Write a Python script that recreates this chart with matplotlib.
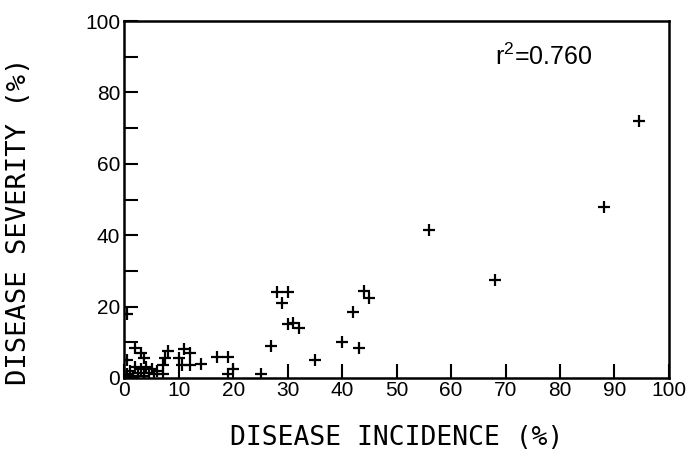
import matplotlib.pyplot as plt
from matplotlib.ticker import MultipleLocator

plt.rcParams['mathtext.fontset'] = 'custom'
plt.rcParams['mathtext.rm'] = 'Liberation Sans'
plt.rcParams['mathtext.default'] = 'regular'

# disease incidence (%) vs disease severity (%)
incidence = [0, 0.5, 0.5, 0.5, 1, 1.5, 2, 2, 2.5, 3, 3, 3.5, 3.5, 4, 4.5,
             5, 5.5, 6, 7, 7.5, 8, 7, 10, 10.5, 11, 12, 12, 14, 17, 19,
             20, 19, 25, 27, 28, 30, 29, 30, 31, 32, 35, 40, 42, 43, 44,
             45, 56, 68, 88, 94.5]
severity = [0.5, 1, 5, 18, 2, 0.5, 3, 8.5, 1.5, 7, 2.5, 5.5, 0.5, 3, 1.5,
            2.5, 1, 2, 3.5, 5.5, 7.5, 1, 5.5, 3.5, 8, 7, 3.5, 4, 6, 6,
            2.5, 1, 1, 9, 24, 24, 21, 15, 15.5, 14, 5, 10, 18.5, 8.5, 24.5,
            22.5, 41.5, 27.5, 48, 72]
r2_text = 'r$^{2}$=0.760'

fig = plt.figure(figsize=(6.9, 4.58), dpi=100)
ax = fig.add_axes([0.1804, 0.1747, 0.789, 0.7794])

ax.plot(incidence, severity, linestyle='none', marker='+', color='black',
        markersize=8, markeredgewidth=1.6)

ax.set_xlim(0, 100)
ax.set_ylim(0, 100)
ax.xaxis.set_major_locator(MultipleLocator(10))
ax.yaxis.set_major_locator(MultipleLocator(20))
ax.yaxis.set_minor_locator(MultipleLocator(10))
ax.tick_params(which='both', direction='in', length=10, width=1.5,
               color='black', pad=3)
ax.tick_params(axis='x', pad=2)
for lab in ax.get_xticklabels() + ax.get_yticklabels():
    lab.set_family('Liberation Sans')
    lab.set_fontsize(15)
for s in ax.spines.values():
    s.set_linewidth(1.8)

ax.set_xlabel('DISEASE INCIDENCE (%)', family='DejaVu Sans Mono',
              fontsize=19, labelpad=18)
ax.set_ylabel('DISEASE SEVERITY (%)', family='DejaVu Sans Mono',
              fontsize=19.5)
ax.yaxis.set_label_coords(-0.17, 0.44)

ax.text(68, 90, r2_text, family='Liberation Sans', fontsize=18,
        ha='left', va='center')

fig.savefig('out.png', dpi=100)
